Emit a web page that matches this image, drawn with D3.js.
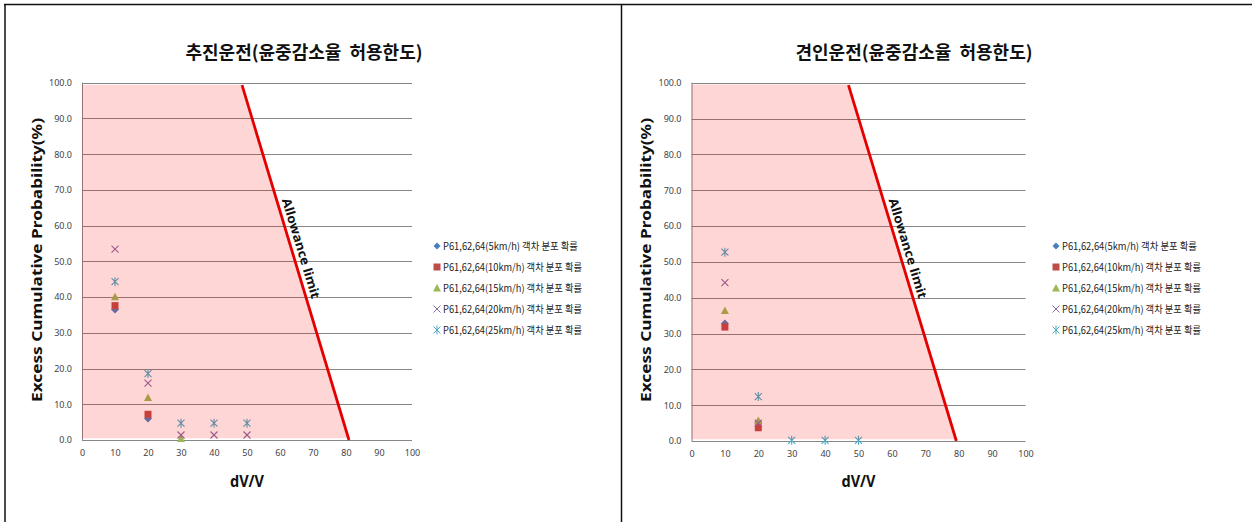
<!DOCTYPE html>
<html><head><meta charset="utf-8">
<script src="https://cdn.jsdelivr.net/npm/d3@7"></script>
<style>body{margin:0;background:#fff;} svg{display:block;} .ttl{white-space:pre;}</style>
</head><body><svg id="c" width="1252" height="522"></svg>
<script>
// ---------- data ----------
const xCategories = [10, 20, 30, 40, 50];
const xTickValues = [0, 10, 20, 30, 40, 50, 60, 70, 80, 90, 100];
const yTickValues = [0, 10, 20, 30, 40, 50, 60, 70, 80, 90, 100];
const seriesNames = [
  "P61,62,64(5km/h) 객차 분포 확률",
  "P61,62,64(10km/h) 객차 분포 확률",
  "P61,62,64(15km/h) 객차 분포 확률",
  "P61,62,64(20km/h) 객차 분포 확률",
  "P61,62,64(25km/h) 객차 분포 확률"
];
const pushTitle = "추진운전(윤중감소율  허용한도)";
const pullTitle = "견인운전(윤중감소율  허용한도)";
const xAxisTitle = "dV/V";
const yAxisTitle = "Excess Cumulative Probability(%)";
const limitLabel = "Allowance limit";

// 추진운전 (push)
const push5  = [36.5, 6.0, null, null, null];
const push10 = [37.6, 7.2, null, null, null];
const push15 = [40.1, 11.9, 0.4, null, null];
const push20 = [53.4, 15.9, 1.4, 1.4, 1.4];
const push25 = [44.3, 18.6, 4.7, 4.7, 4.7];
const pushLimit = [[48.5, 99.3], [80.9, 0]];
const pushBand = [[0, 0.5], [0, 99.4], [48.6, 99.4], [80.7, 0.5]];

// 견인운전 (pull)
const pull5  = [32.8, 5.2, null, null, null];
const pull10 = [31.8, 3.7, null, null, null];
const pull15 = [36.4, 5.7, null, null, null];
const pull20 = [44.2, 5.0, null, null, null];
const pull25 = [52.7, 12.4, 0.2, 0.2, 0.2];
const pullLimit = [[47.0, 99.3], [79.3, 0]];
const pullBand = [[0, 0.5], [0, 99.5], [47.1, 99.5], [79.1, 0.5]];

// ---------- drawing ----------
const svg = d3.select("#c");
const colors = ["#4a7ebb", "#be4b48", "#98b954", "#8a6aa8", "#46aac5"];
const markerPaths = [
  "M0,-4L4,0L0,4L-4,0Z",
  "M-3.5,-3.5H3.5V3.5H-3.5Z",
  "M0,-4L4,3.5H-4Z",
  "M-3.5,-3.5L3.5,3.5M3.5,-3.5L-3.5,3.5",
  "M-3.5,-3.5L3.5,3.5M3.5,-3.5L-3.5,3.5M0,-4.5V4.5"
];
const legendPaths = [
  "M0,-3.5L3.5,0L0,3.5L-3.5,0Z",
  "M-3.5,-3.5H3.5V3.5H-3.5Z",
  "M0,-4L4,3.5H-4Z",
  "M-3.5,-3.5L3.5,3.5M3.5,-3.5L-3.5,3.5",
  "M-3.5,-3.5L3.5,3.5M3.5,-3.5L-3.5,3.5M0,-4.5V4.5"
];
function isLineMarker(i){ return i >= 3; }

// frame
svg.append("line").attr("x1", 4).attr("x2", 1252).attr("y1", 4.5).attr("y2", 4.5).attr("stroke", "#111").attr("stroke-width", 1.5);
svg.append("line").attr("x1", 5).attr("x2", 5).attr("y1", 4).attr("y2", 522).attr("stroke", "#111").attr("stroke-width", 1.5);
svg.append("line").attr("x1", 621.5).attr("x2", 621.5).attr("y1", 4).attr("y2", 522).attr("stroke", "#111").attr("stroke-width", 1.5);

function drawChart(cfg) {
  const g = svg.append("g");
  const x = d3.scaleLinear().domain([0, 100]).range([cfg.left, cfg.right]);
  const y = d3.scaleLinear().domain([0, 100]).range([cfg.bottom, cfg.top]);

  // title
  g.append("text").attr("class", "ttl").attr("x", cfg.titleX).attr("y", 59)
    .attr("text-anchor", "middle")
    .attr("font-family", "'Noto Sans CJK KR', sans-serif")
    .attr("font-weight", "bold").attr("font-size", 18)
    .attr("textLength", 237).attr("lengthAdjust", "spacingAndGlyphs")
    .attr("fill", "#111").text(cfg.title);

  // gridlines
  g.selectAll(".grid").data(yTickValues).join("line")
    .attr("x1", cfg.left).attr("x2", cfg.right)
    .attr("y1", d => Math.round(y(d)) + 0.5).attr("y2", d => Math.round(y(d)) + 0.5)
    .attr("stroke", "#868686").attr("stroke-width", 1);
  // left axis line
  g.append("line").attr("x1", cfg.left + 0.5).attr("x2", cfg.left + 0.5)
    .attr("y1", y(100)).attr("y2", y(0)).attr("stroke", "#868686");

  // y tick labels
  const yAxis = d3.axisLeft(y).tickValues(yTickValues).tickFormat(d3.format(".1f")).tickSize(0).tickPadding(10);
  const ya = g.append("g").attr("transform", `translate(${cfg.left},0)`).call(yAxis);
  ya.select(".domain").remove();
  ya.selectAll("text").attr("font-family", "'Noto Sans', sans-serif").attr("font-size", 9).attr("fill", "#444");

  // x tick labels
  const xAxis = d3.axisBottom(x).tickValues(xTickValues).tickFormat(d3.format("d")).tickSize(0).tickPadding(10);
  const xa = g.append("g").attr("transform", `translate(0,${cfg.bottom})`).call(xAxis);
  xa.select(".domain").remove();
  xa.selectAll("text").attr("font-family", "'Noto Sans', sans-serif").attr("font-size", 9).attr("fill", "#444");

  // markers
  cfg.series.forEach((vals, i) => {
    const pts = xCategories.map((c, j) => [c, vals[j]]).filter(p => p[1] !== null);
    g.selectAll(null).data(pts).join("path")
      .attr("transform", p => `translate(${x(p[0])},${y(p[1])})`)
      .attr("d", markerPaths[i])
      .attr("fill", isLineMarker(i) ? "none" : colors[i])
      .attr("stroke", isLineMarker(i) ? colors[i] : "none")
      .attr("stroke-width", 1.1);
  });

  // pink allowance band (semi transparent overlay)
  g.append("path")
    .attr("d", d3.line().x(d => x(d[0])).y(d => y(d[1]))(cfg.band) + "Z")
    .attr("fill", "#ff0000").attr("fill-opacity", 0.16);

  // red allowance limit line
  g.append("path")
    .attr("d", d3.line().x(d => x(d[0])).y(d => y(d[1]))(cfg.limit))
    .attr("stroke", "#e50000").attr("stroke-width", 2.8).attr("fill", "none");

  // allowance label
  const p1 = [x(cfg.limit[0][0]), y(cfg.limit[0][1])];
  const p2 = [x(cfg.limit[1][0]), y(cfg.limit[1][1])];
  const ang = Math.atan2(p2[1] - p1[1], p2[0] - p1[0]) * 180 / Math.PI;
  const t = (251 - p1[1]) / (p2[1] - p1[1]);
  const mx = p1[0] + t * (p2[0] - p1[0]), my = p1[1] + t * (p2[1] - p1[1]);
  g.append("text").attr("transform", `translate(${mx},${my}) rotate(${ang})`)
    .attr("text-anchor", "middle").attr("dy", -5)
    .attr("font-family", "'Noto Sans', sans-serif").attr("font-weight", "bold")
    .attr("font-size", 12.5).attr("textLength", 104).attr("lengthAdjust", "spacingAndGlyphs")
    .attr("fill", "#111").text(limitLabel);

  // axis titles
  g.append("text").attr("transform", `translate(${cfg.yTitleX},260) rotate(-90)`)
    .attr("text-anchor", "middle")
    .attr("font-family", "'Noto Sans', sans-serif").attr("font-weight", "bold")
    .attr("font-size", 15).attr("textLength", 284).attr("lengthAdjust", "spacingAndGlyphs")
    .attr("fill", "#111").text(yAxisTitle);
  g.append("text").attr("x", (cfg.left + cfg.right) / 2).attr("y", 487)
    .attr("text-anchor", "middle")
    .attr("font-family", "'Noto Sans', sans-serif").attr("font-weight", "bold")
    .attr("font-size", 16).attr("textLength", 34).attr("lengthAdjust", "spacingAndGlyphs")
    .attr("fill", "#111").text(xAxisTitle);

  // legend
  const lg = g.append("g");
  seriesNames.forEach((name, i) => {
    const ly = 246 + i * 21;
    lg.append("path").attr("transform", `translate(${cfg.legendX},${ly})`)
      .attr("d", legendPaths[i])
      .attr("fill", isLineMarker(i) ? "none" : colors[i])
      .attr("stroke", isLineMarker(i) ? colors[i] : "none").attr("stroke-width", 1);
    lg.append("text").attr("x", cfg.legendX + 6).attr("y", ly + 3.5)
      .attr("font-family", "'Noto Sans CJK KR', sans-serif").attr("font-size", 10)
      .attr("textLength", i === 0 ? 135 : 139).attr("lengthAdjust", "spacingAndGlyphs")
      .attr("fill", "#222").text(name);
  });
}

drawChart({
  title: pushTitle, titleX: 304,
  left: 82, right: 412, top: 82.7, bottom: 440,
  yTitleX: 41.5, legendX: 437,
  series: [push5, push10, push15, push20, push25],
  limit: pushLimit, band: pushBand
});
drawChart({
  title: pullTitle, titleX: 914,
  left: 691.5, right: 1025.5, top: 82.7, bottom: 441,
  yTitleX: 650.5, legendX: 1056,
  series: [pull5, pull10, pull15, pull20, pull25],
  limit: pullLimit, band: pullBand
});
</script>
</body></html>
